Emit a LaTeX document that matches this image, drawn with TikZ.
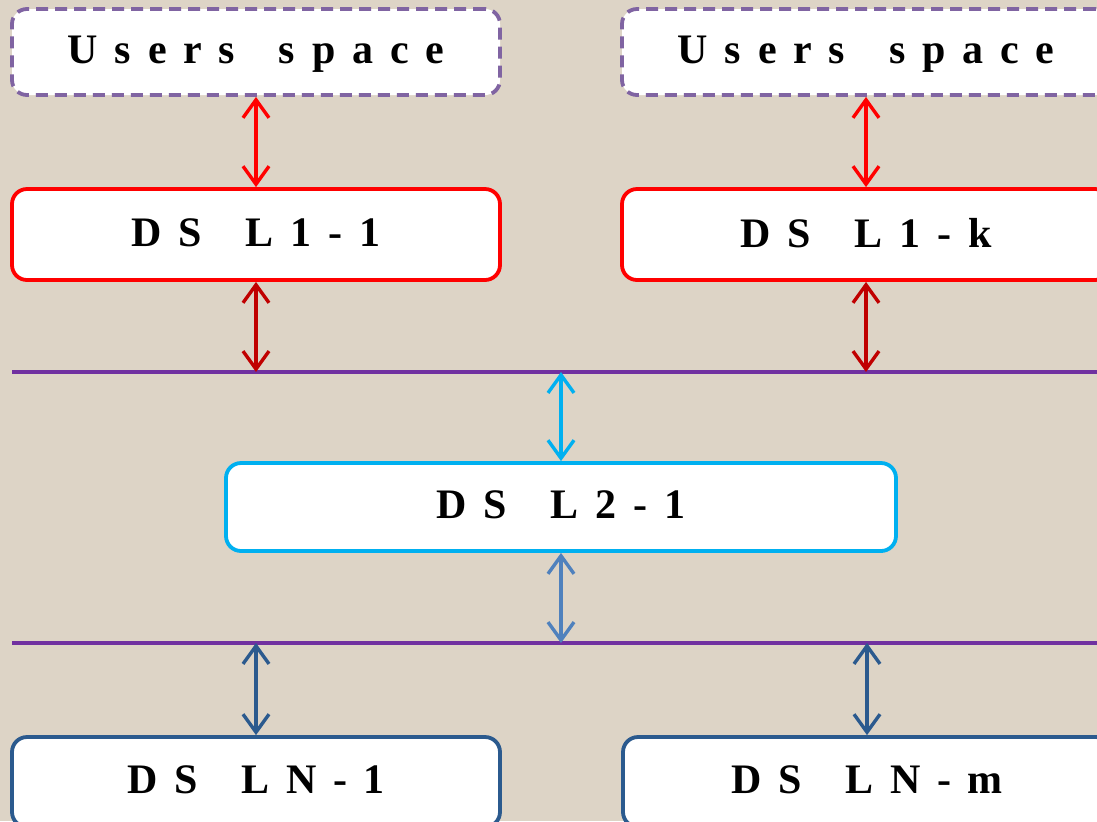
\documentclass[tikz,border=0pt]{standalone}
\usepackage{fontspec}
\setmainfont{Liberation Serif}
\newfontfamily\boxfont[LetterSpace=40,WordSpace=1.6]{Liberation Serif}
\usetikzlibrary{arrows.meta,positioning}
\definecolor{paper}{HTML}{DDD4C6}
\definecolor{userline}{HTML}{8064A2}
\definecolor{lonered}{HTML}{FF0000}
\definecolor{darkred}{HTML}{C00000}
\definecolor{buspurple}{HTML}{7030A0}
\definecolor{ltwocyan}{HTML}{00B0F0}
\definecolor{steel}{HTML}{4F81BD}
\definecolor{lnblue}{HTML}{2B5A8E}

\begin{document}
\begin{tikzpicture}[x=0.5pt,y=-0.5pt,
 every node/.style={align=center,font=\boxfont\bfseries\fontsize{21}{25}\selectfont},
 box/.style={draw,fill=white,rounded corners=7.5pt,line width=1.9pt,
   minimum width=244pt,minimum height=44pt,inner sep=0pt,text depth=2pt},
 link/.style={{Straight Barb[length=9pt,width=13pt]}-{Straight Barb[length=9pt,width=13pt]},line width=1.7pt}]
\fill[paper] (0,0) rectangle (1097,821);
\clip (0,0) rectangle (1097,821);
% level 1
\node[box,draw=userline,dash pattern=on 6pt off 3.5pt,minimum height=43pt] (users1) at (256,52) {Users space};
\node[box,draw=userline,dash pattern=on 6pt off 3.5pt,minimum height=43pt] (users2) at (866,52) {Users space};
\node[box,draw=lonered,minimum height=45.5pt] (ds11) at (256,234.5) {DS L1-1};
\node[box,draw=lonered,minimum height=45.5pt] (ds1k) at (866,234.5) {DS L1-k};
% buses
\coordinate (bus1w) at (12,372);
\coordinate (bus1e) at (1110,372);
\coordinate (bus2w) at (12,643);
\coordinate (bus2e) at (1110,643);
\draw[buspurple,line width=1.8pt] (bus1w)--(bus1e);
\draw[buspurple,line width=1.8pt] (bus2w)--(bus2e);
% level 2 and level N
\node[box,draw=ltwocyan,minimum width=335pt] (ds21) at (561,507) {DS L2-1};
\node[box,draw=lnblue,minimum height=45pt] (dsn1) at (256,782) {DS LN-1};
\node[box,draw=lnblue,minimum height=45pt] (dsnm) at (867,782) {DS LN-m};
\draw[link,lonered] (users1)--(ds11);
\draw[link,lonered] (users2)--(ds1k);
\draw[link,darkred] (ds11.south)--(ds11.south|-bus1w);
\draw[link,darkred] (ds1k.south)--(ds1k.south|-bus1w);
\draw[link,ltwocyan] (ds21.north|-bus1w)--(ds21.north);
\draw[link,steel] (ds21.south)--(ds21.south|-bus2w);
\draw[link,lnblue] (dsn1.north|-bus2w)--(dsn1.north);
\draw[link,lnblue] (dsnm.north|-bus2w)--(dsnm.north);
\end{tikzpicture}
\end{document}
